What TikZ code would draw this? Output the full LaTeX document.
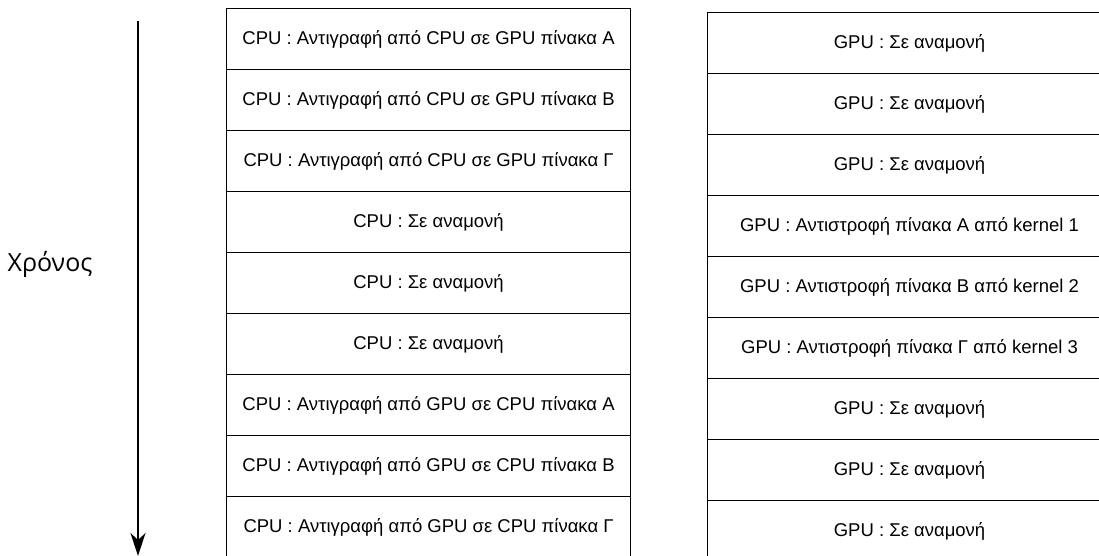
\documentclass[tikz,border=0pt]{standalone}
\usepackage{fontspec}
\setmainfont{Liberation Sans}
\newfontfamily\labelfont{Open Sans}
\usetikzlibrary{arrows.meta}

\begin{document}
\begin{tikzpicture}[x=1pt,y=-1pt,
  rowbox/.style={draw=black, line width=1.1pt, minimum width=404pt, minimum height=61pt,
    anchor=north west, inner sep=0pt, font=\fontsize{18.5}{22}\selectfont},
  timearrow/.style={line width=1.4pt, -{Stealth[length=23pt,width=15pt,inset=7pt]}}]
\useasboundingbox (0,0) rectangle (1099,556);

% time axis
\node[font=\labelfont\fontsize{25}{30}\selectfont, anchor=base] (time) at (50,271) {Χρόνος};
\coordinate (tstart) at (138,21);
\coordinate (tend) at (138,556);
\draw[timearrow] (tstart) -- (tend);

% CPU column
\foreach \i/\txt in {
  1/{CPU : Αντιγραφή από CPU σε GPU πίνακα Α},
  2/{CPU : Αντιγραφή από CPU σε GPU πίνακα Β},
  3/{CPU : Αντιγραφή από CPU σε GPU πίνακα Γ},
  4/{CPU : Σε αναμονή},
  5/{CPU : Σε αναμονή},
  6/{CPU : Σε αναμονή},
  7/{CPU : Αντιγραφή από GPU σε CPU πίνακα Α},
  8/{CPU : Αντιγραφή από GPU σε CPU πίνακα Β},
  9/{CPU : Αντιγραφή από GPU σε CPU πίνακα Γ}}
  \node[rowbox] (cpu\i) at (226,{8+61*(\i-1)}) {\txt};

% GPU column
\foreach \i/\txt in {
  1/{GPU : Σε αναμονή},
  2/{GPU : Σε αναμονή},
  3/{GPU : Σε αναμονή},
  4/{GPU : Αντιστροφή πίνακα Α από kernel 1},
  5/{GPU : Αντιστροφή πίνακα Β από kernel 2},
  6/{GPU : Αντιστροφή πίνακα Γ από kernel 3},
  7/{GPU : Σε αναμονή},
  8/{GPU : Σε αναμονή},
  9/{GPU : Σε αναμονή}}
  \node[rowbox] (gpu\i) at (707,{12+61*(\i-1)}) {\txt};
\end{tikzpicture}
\end{document}
